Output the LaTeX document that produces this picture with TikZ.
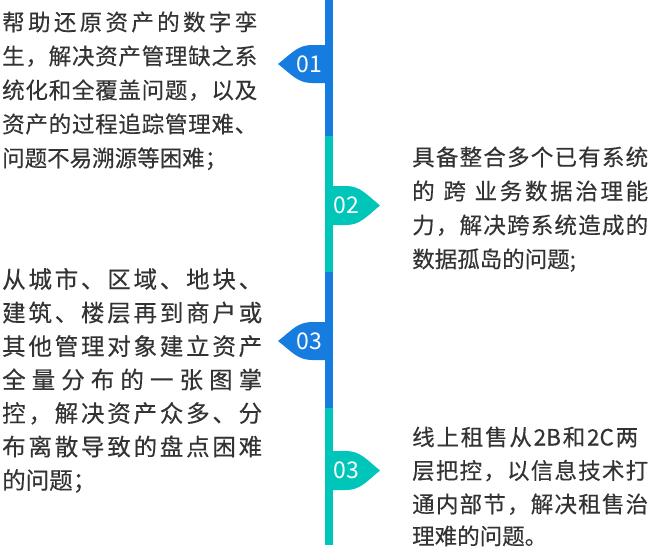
\documentclass[tikz,border=0pt]{standalone}
\usepackage{fontspec}
\setmainfont{Noto Sans CJK SC}[FakeBold=0.3]
\newfontfamily\numfont{Noto Sans CJK SC}
\definecolor{tblue}{HTML}{177CE0}
\definecolor{tteal}{HTML}{00C5B9}
\definecolor{ttext}{HTML}{333333}
\makeatletter
\def\jl#1#2{\makebox[#1][s]{\jl@a#2\relax}}
\def\jl@a#1{#1\jl@b}
\def\jl@b#1{\ifx\relax#1\else\hfil#1\expandafter\jl@b\fi}
\makeatother
\tikzset{
  txt/.style={anchor=base west, inner sep=0pt, text=ttext, font=\fontsize{22.5}{27}\selectfont},
  txtb/.style={txt, font=\fontsize{23.5}{28}\selectfont},
  num/.style={inner sep=0pt, text=white, font=\numfont\fontsize{23}{27}\selectfont},
}
\begin{document}
\begin{tikzpicture}[x=1pt,y=-1pt]
\useasboundingbox (0,0) rectangle (652,547);
% markers
\fill[tblue] (330,45) -- (312,45) .. controls (298,45) and (292,53) .. (278,64) .. controls (292,75) and (298,83) .. (312,83) -- (330,83) -- cycle;
\fill[tteal] (328,186) -- (346,186) .. controls (360,186) and (366,194) .. (380,205.5) .. controls (366,217) and (360,225) .. (346,225) -- (328,225) -- cycle;
\fill[tblue] (330,322) -- (312,322) .. controls (298,322) and (292,330) .. (278,341) .. controls (292,352) and (298,360) .. (312,360) -- (330,360) -- cycle;
\fill[tteal] (328,451) -- (346,451) .. controls (360,451) and (366,459) .. (380,470.5) .. controls (366,482) and (360,490) .. (346,490) -- (328,490) -- cycle;
% timeline
\fill[tblue] (325,0) rectangle (333,136);
\fill[tteal] (325,136) rectangle (333,272);
\fill[tblue] (325,272) rectangle (333,408);
\fill[tteal] (325,408) rectangle (333,545);
% numbers
\node[num] (n1) at (309,64) {01};
\node[num] (n2) at (346,205.5) {02};
\node[num] (n3) at (309,341) {03};
\node[num] (n4) at (346,470.5) {03};
% block 1
\node[txt] (a1) at (2,30.5) {\jl{255pt}{帮助还原资产的数字孪}};
\node[txt] (a2) at (2,64.5) {\jl{255pt}{生，解决资产管理缺之系}};
\node[txt] (a3) at (2,98.5) {\jl{255pt}{统化和全覆盖问题，以及}};
\node[txt] (a4) at (2,132.5) {\jl{255pt}{资产的过程追踪管理难、}};
\node[txt] (a5) at (2,166.5) {问题不易溯源等困难；};
% block 2
\node[txt] (b1) at (412,165.5) {\jl{236pt}{具备整合多个已有系统}};
\node[txt] (b2) at (412,199.5) {\makebox[236pt][s]{的\hspace{6pt}\hfil 跨\hspace{6pt}\hfil 业\hfil 务\hfil 数\hfil 据\hfil 治\hfil 理\hfil 能}};
\node[txt] (b3) at (412,233.5) {\jl{236pt}{力，解决跨系统造成的}};
\node[txt] (b4) at (412,267.5) {数据孤岛的问题;};
% block 3
\node[txtb] (c1) at (2,288) {\jl{260pt}{从城市、区域、地块、}};
\node[txtb] (c2) at (2,321.5) {\jl{260pt}{建筑、楼层再到商户或}};
\node[txtb] (c3) at (2,355) {\jl{260pt}{其他管理对象建立资产}};
\node[txtb] (c4) at (2,388.5) {\jl{260pt}{全量分布的一张图掌}};
\node[txtb] (c5) at (2,422) {\jl{260pt}{控，解决资产众多、分}};
\node[txtb] (c6) at (2,455.5) {\jl{260pt}{布离散导致的盘点困难}};
\node[txtb] (c7) at (2,489) {的问题；};
% block 4
\node[txt] (d1) at (412,445.5) {\jl{226pt}{线上租售从{2B}和{2C}两}};
\node[txt] (d2) at (412,479) {\jl{236pt}{层把控，以信息技术打}};
\node[txt] (d3) at (412,512.5) {\jl{236pt}{通内部节，解决租售治}};
\node[txt] (d4) at (412,544.5) {理难的问题。};
\end{tikzpicture}
\end{document}
